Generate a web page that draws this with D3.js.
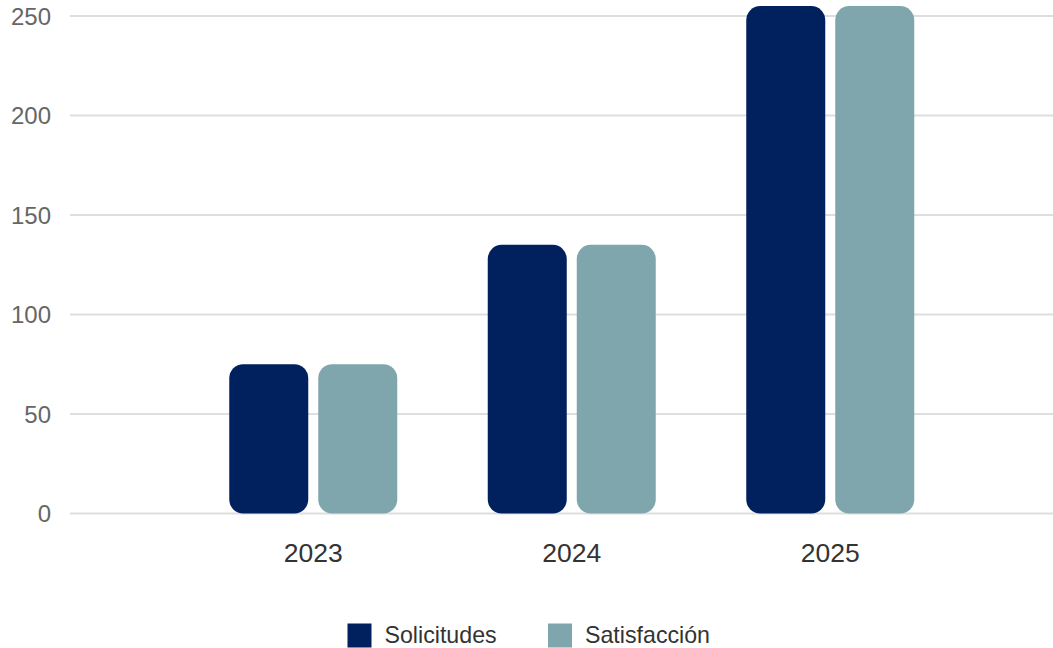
<!DOCTYPE html>
<html><head><meta charset="utf-8">
<script src="https://cdn.jsdelivr.net/npm/d3@7"></script>
<style>
html,body{margin:0;padding:0;background:#fff;}
svg{display:block;font-family:"Liberation Sans",Arial,sans-serif;}
</style></head>
<body>
<svg id="chart" width="1053" height="648"></svg>
<script>
const categories = ["2023", "2024", "2025"];
const seriesNames = ["Solicitudes", "Satisfacción"];
const solicitudes = [75, 135, 255];
const satisfaccion = [75, 135, 255];
const yTicks = [0, 50, 100, 150, 200, 250];
const colors = ["#00215E", "#80A6AD"];

const seriesValues = [solicitudes, satisfaccion];
const svg = d3.select("#chart");
const W = 1053;

const y = d3.scaleLinear().domain([0, 250]).range([513.5, 16]);
const x = d3.scaleBand().domain(categories).range([184, 959.5]).padding(0);
const x1 = d3.scaleBand().domain(seriesNames).range([-84, 84]).paddingInner(10 / 89).paddingOuter(0);

// gridlines
svg.append("g").selectAll("line").data(yTicks).join("line")
  .attr("x1", 70).attr("x2", W)
  .attr("y1", d => y(d)).attr("y2", d => y(d))
  .attr("stroke", "#dedede").attr("stroke-width", 2);

// y axis labels
const yAxis = d3.axisLeft(y).tickValues(yTicks).tickSize(0).tickPadding(0);
const gy = svg.append("g").attr("transform", "translate(51,0)").call(yAxis);
gy.select(".domain").remove();
gy.selectAll("text").attr("font-size", 24).attr("fill", "#666")
  .attr("font-family", "Liberation Sans, Arial, sans-serif").attr("dy", "0.35em");

// bars
const groups = svg.append("g").selectAll("g").data(categories).join("g")
  .attr("transform", d => `translate(${x(d) + x.bandwidth() / 2},0)`);
groups.selectAll("rect").data((c, i) => seriesNames.map((s, j) => ({s, j, v: seriesValues[j][i]})))
  .join("rect")
  .attr("x", d => x1(d.s)).attr("width", x1.bandwidth())
  .attr("y", d => y(d.v)).attr("height", d => y(0) - y(d.v))
  .attr("rx", 14).attr("ry", 14)
  .attr("fill", d => colors[d.j]);

// x axis labels
const xAxis = d3.axisBottom(x).tickSize(0).tickPadding(0);
const gx = svg.append("g").attr("transform", "translate(0,562)").call(xAxis);
gx.select(".domain").remove();
gx.selectAll("text").attr("font-size", 26.5).attr("fill", "#333").attr("dy", 0)
  .attr("font-family", "Liberation Sans, Arial, sans-serif");

// legend
const legend = svg.append("g");
const items = legend.selectAll("g").data(seriesNames).join("g");
items.append("rect").attr("width", 24).attr("height", 24).attr("y", 623.5)
  .attr("fill", (d, i) => colors[i]);
items.append("text").attr("x", 37).attr("y", 643).attr("font-size", 23.2).attr("fill", "#333")
  .text(d => d);
let offs = [347.5, 548];
items.attr("transform", (d, i) => `translate(${offs[i]},0)`);
</script>
</body></html>
